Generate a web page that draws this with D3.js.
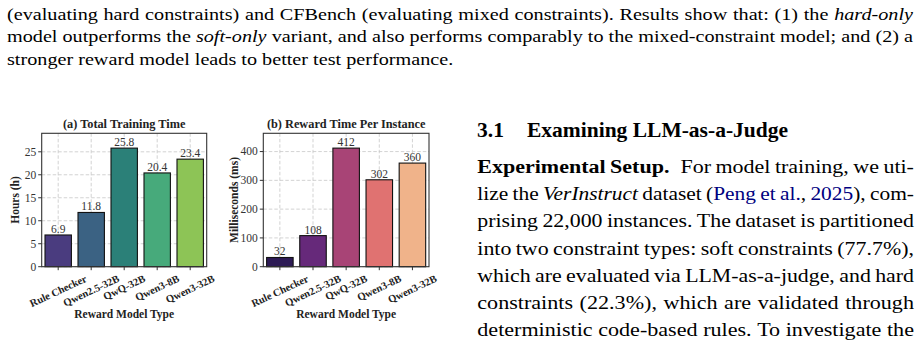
<!DOCTYPE html>
<meta charset="utf-8" />
<script src="https://d3js.org/d3.v7.min.js"></script>
<style>
  body { margin: 0; background: #fff; }
  svg { display: block; }
</style>
<body>
<div id="page"></div>
<script>
  // data
  const models = ["Rule Checker", "Qwen2.5-32B", "QwQ-32B", "Qwen3-8B", "Qwen3-32B"];
  const trainHours = [6.9, 11.8, 25.8, 20.4, 23.4];
  const rewardMs = [32, 108, 412, 302, 360];
  const hourTicks = [0, 5, 10, 15, 20, 25];
  const msTicks = [0, 100, 200, 300, 400];

  // palettes (viridis / magma samples as they look on the page)
  const viridisCols = ["#4a3c7f", "#3b6283", "#2b8078", "#47aa7b", "#8dc456"];
  const magmaCols = ["#2d1b55", "#66297a", "#a84476", "#e07271", "#f0b38a"];

  const serif = "'Liberation Serif', 'Times New Roman', serif";
  const width = 923;
  const height = 349;

  const svg = d3
    .select("#page")
    .append("svg")
    .attr("width", width)
    .attr("height", height)
    .style("font-family", serif);

  svg.append("rect").attr("width", width).attr("height", height).attr("fill", "#fff");

  // one bar panel
  function panel(opt) {
    const g = svg.append("g");
    const x = d3
      .scaleBand()
      .domain(models)
      .range([opt.left, opt.right])
      .paddingInner(0.2)
      .paddingOuter(0.1);
    const y = d3
      .scaleLinear()
      .domain([0, d3.max(opt.values) * 1.125])
      .range([opt.bottom, opt.top]);
    const rows = models.map((m, i) => ({ m: m, v: opt.values[i], c: opt.colors[i] }));
    const cx = (d) => x(d) + x.bandwidth() / 2;

    // dashed grid
    g.selectAll(".hg")
      .data(opt.ticks)
      .join("line")
      .attr("x1", opt.left)
      .attr("x2", opt.right)
      .attr("y1", (d) => y(d))
      .attr("y2", (d) => y(d))
      .attr("stroke", "#c8c8c8")
      .attr("stroke-width", 0.8)
      .attr("stroke-dasharray", "3.5,2");
    g.selectAll(".vg")
      .data(models)
      .join("line")
      .attr("x1", cx)
      .attr("x2", cx)
      .attr("y1", opt.top)
      .attr("y2", opt.bottom)
      .attr("stroke", "#c8c8c8")
      .attr("stroke-width", 0.8)
      .attr("stroke-dasharray", "3.5,2");

    // bars
    g.selectAll(".bar")
      .data(rows)
      .join("rect")
      .attr("x", (d) => x(d.m))
      .attr("width", x.bandwidth())
      .attr("y", (d) => y(d.v))
      .attr("height", (d) => y(0) - y(d.v))
      .attr("fill", (d) => d.c)
      .attr("stroke", "#111")
      .attr("stroke-width", 1.1);

    // values on top
    g.selectAll(".val")
      .data(rows)
      .join("text")
      .attr("x", (d) => cx(d.m))
      .attr("y", (d) => y(d.v) - 2)
      .attr("text-anchor", "middle")
      .attr("font-size", 11.5)
      .attr("fill", "#333")
      .text((d) => opt.fmt(d.v));

    // frame
    g.append("rect")
      .attr("x", opt.left)
      .attr("y", opt.top)
      .attr("width", opt.right - opt.left)
      .attr("height", opt.bottom - opt.top)
      .attr("fill", "none")
      .attr("stroke", "#333")
      .attr("stroke-width", 1.1);

    // y ticks
    g.selectAll(".yt")
      .data(opt.ticks)
      .join("line")
      .attr("x1", opt.left - 3.5)
      .attr("x2", opt.left)
      .attr("y1", (d) => y(d))
      .attr("y2", (d) => y(d))
      .attr("stroke", "#333");
    g.selectAll(".yl")
      .data(opt.ticks)
      .join("text")
      .attr("x", opt.left - 5.5)
      .attr("y", (d) => y(d))
      .attr("dy", "0.34em")
      .attr("text-anchor", "end")
      .attr("font-size", 11.5)
      .attr("fill", "#333")
      .text((d) => d);

    // x ticks + rotated labels
    g.selectAll(".xt")
      .data(models)
      .join("line")
      .attr("x1", cx)
      .attr("x2", cx)
      .attr("y1", opt.bottom)
      .attr("y2", opt.bottom + 3.5)
      .attr("stroke", "#333");
    const ang = 25;
    const rad = (ang * Math.PI) / 180;
    const fs = 10.5;
    g.selectAll(".xl")
      .data(models)
      .join("text")
      .attr("text-anchor", "middle")
      .attr("dominant-baseline", "central")
      .attr("font-size", fs)
      .attr("font-weight", "bold")
      .attr("fill", "#222")
      .text((d) => d)
      .each(function (d) {
        const L = this.getComputedTextLength();
        const hgt = L * Math.sin(rad) + fs * 0.9 * Math.cos(rad);
        const px = cx(d);
        const py = opt.bottom + 7 + hgt / 2;
        d3.select(this)
          .attr("x", px)
          .attr("y", py)
          .attr("transform", `rotate(${-ang},${px},${py})`);
      });

    // titles
    g.append("text")
      .attr("x", (opt.left + opt.right) / 2)
      .attr("y", 128)
      .attr("text-anchor", "middle")
      .attr("font-size", 12.3)
      .attr("font-weight", "bold")
      .attr("fill", "#222")
      .text(opt.title);
    g.append("text")
      .attr("x", (opt.left + opt.right) / 2)
      .attr("y", 317.5)
      .attr("text-anchor", "middle")
      .attr("font-size", 11.5)
      .attr("font-weight", "bold")
      .attr("fill", "#222")
      .text("Reward Model Type");
    const ly = (opt.top + opt.bottom) / 2;
    g.append("text")
      .attr("x", opt.ylabX)
      .attr("y", ly)
      .attr("transform", `rotate(-90,${opt.ylabX},${ly})`)
      .attr("text-anchor", "middle")
      .attr("font-size", 11.5)
      .attr("font-weight", "bold")
      .attr("fill", "#222")
      .text(opt.ylab);
  }

  panel({
    left: 41.7, right: 206.7, top: 133.3, bottom: 266.7,
    values: trainHours, ticks: hourTicks, colors: viridisCols,
    fmt: d3.format(".1f"), title: "(a) Total Training Time",
    ylab: "Hours (h)", ylabX: 19
  });
  panel({
    left: 263.3, right: 429, top: 133.3, bottom: 266.7,
    values: rewardMs, ticks: msTicks, colors: magmaCols,
    fmt: d3.format("d"), title: "(b) Reward Time Per Instance",
    ylab: "Milliseconds (ms)", ylabX: 237.5
  });

  // ---- page text ----
  const blue = "#000080";

  function splitWords(segs) {
    const words = [];
    let cur = [];
    segs.forEach((s) => {
      s.t.split(" ").forEach((p, i) => {
        if (i > 0 && cur.length) {
          words.push(cur);
          cur = [];
        }
        if (p.length) cur.push({ t: p, s: s.s || "", c: s.c });
      });
    });
    if (cur.length) words.push(cur);
    return words;
  }

  function wordNodes(g, words, yb, size) {
    return words.map((w) => {
      const t = g.append("text").attr("y", yb).attr("font-size", size).attr("fill", "#000");
      w.forEach((seg) => {
        t.append("tspan")
          .text(seg.t)
          .attr("font-style", seg.s.includes("i") ? "italic" : null)
          .attr("font-weight", seg.s.includes("b") ? "bold" : null)
          .attr("fill", seg.c || null);
      });
      return t;
    });
  }

  // a block of lines, justified like the page; the horizontal stretch is
  // picked so the loosest "fit" line keeps plain word spaces. A line that
  // would get too tight is squeezed a little instead.
  function textBlock(lines, x0, x1, y0, step, size) {
    const sp = size * 0.25;
    const minGap = size * 0.2;
    const span = x1 - x0;
    const tmp = svg.append("g");
    const sxs = lines
      .filter((l) => l.fit)
      .map((l) => {
        const words = splitWords(l.segs);
        const w = d3.sum(wordNodes(tmp, words, 0, size), (n) => n.node().getComputedTextLength());
        return span / (w + (words.length - 1) * sp);
      });
    tmp.remove();
    const sxBlock = d3.min(sxs);

    lines.forEach((l, li) => {
      const words = splitWords(l.segs);
      const g = svg.append("g");
      const nodes = wordNodes(g, words, y0 + li * step, size);
      const widths = nodes.map((n) => n.node().getComputedTextLength());
      const total = d3.sum(widths);
      const n = words.length - 1;
      let sx = sxBlock;
      let gap = l.just ? (span / sx - total) / n : sp;
      if (l.just && gap < minGap) {
        sx = span / (total + n * minGap);
        gap = minGap;
      }
      g.attr("transform", `translate(${x0},0) scale(${sx},1)`);
      let xx = 0;
      nodes.forEach((nd, i) => {
        nd.attr("x", xx);
        xx += widths[i] + gap;
      });
    });
  }

  const capLines = [
    { just: true, fit: true, segs: [{ t: "(evaluating hard constraints) and CFBench (evaluating mixed constraints). Results show that: (1) the " }, { t: "hard-only", s: "i" }] },
    { just: true, fit: true, segs: [{ t: "model outperforms the " }, { t: "soft-only", s: "i" }, { t: " variant, and also performs comparably to the mixed-constraint model; and (2) a" }] },
    { just: false, segs: [{ t: "stronger reward model leads to better test performance." }] }
  ];
  textBlock(capLines, 7, 913, 19.8, 22.7, 16.3);

  svg.append("text").attr("x", 477).attr("y", 137).attr("font-size", 21.5)
    .attr("font-weight", "bold").text("3.1");
  svg.append("text").attr("x", 527).attr("y", 137).attr("font-size", 21.5)
    .attr("font-weight", "bold").text("Examining LLM-as-a-Judge");

  const bodyLines = [
    { just: true, segs: [{ t: "Experimental Setup.", s: "b" }, { t: "\u2002For model training, we uti-" }] },
    { just: true, segs: [{ t: "lize the " }, { t: "VerInstruct", s: "i" }, { t: " dataset (" }, { t: "Peng et al.", c: blue }, { t: ", " }, { t: "2025", c: blue }, { t: "), com-" }] },
    { just: true, segs: [{ t: "prising 22,000 instances. The dataset is partitioned" }] },
    { just: true, segs: [{ t: "into two constraint types: soft constraints (77.7%)," }] },
    { just: true, segs: [{ t: "which are evaluated via LLM-as-a-judge, and hard" }] },
    { just: true, fit: true, segs: [{ t: "constraints (22.3%), which are validated through" }] },
    { just: true, fit: true, segs: [{ t: "deterministic code-based rules. To investigate the" }] },
    { just: true, segs: [{ t: "influence of the distribution of constraint types, we" }] }
  ];
  textBlock(bodyLines, 477.3, 914, 173.3, 27.07, 19.5);
</script>
</body>
